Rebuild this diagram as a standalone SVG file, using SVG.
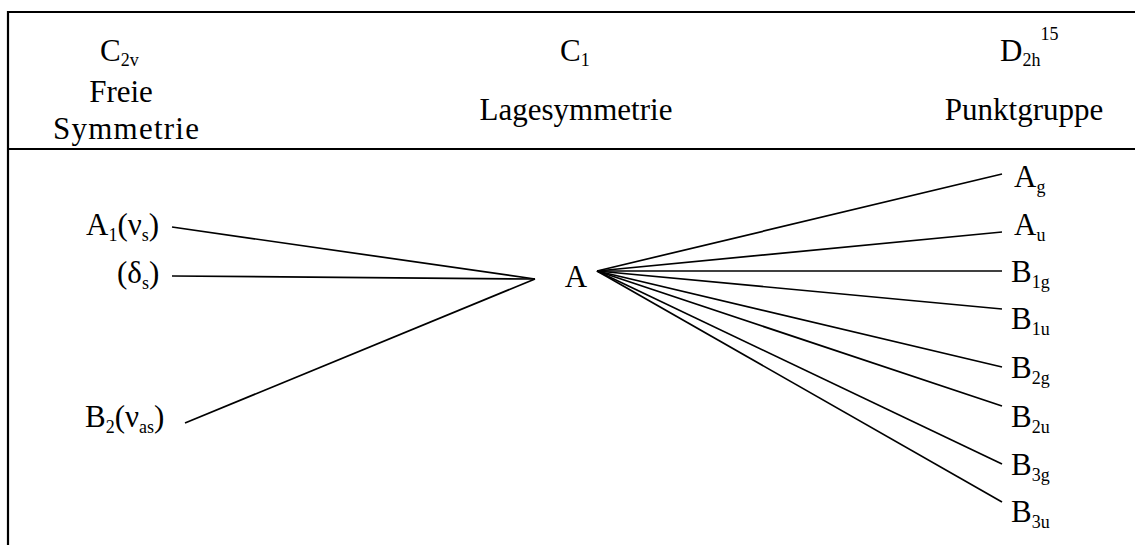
<svg xmlns="http://www.w3.org/2000/svg" width="1135" height="545" viewBox="0 0 1135 545">
<style>
text{font-family:"Liberation Serif","Times New Roman",serif;font-size:31px;fill:#000}
.s{font-size:18px}
.frame{stroke:#000;stroke-width:2.2;fill:none}
.c line{stroke:#000;stroke-width:1.7}
</style>
<rect width="1135" height="545" fill="#fff"/>
<g id="frame">
<path class="frame" d="M8,545 V12 H1135"/>
<line class="frame" x1="8" y1="149" x2="1135" y2="149"/>
</g>
<g id="header-left">
<text x="100" y="61">C<tspan class="s" dy="5">2v</tspan></text>
<text x="121" y="102" text-anchor="middle">Freie</text>
<text x="53" y="139" textLength="146" lengthAdjust="spacing">Symmetrie</text>
</g>
<g id="header-mid">
<text x="560" y="61">C<tspan class="s" dy="5">1</tspan></text>
<text x="576" y="120" text-anchor="middle">Lagesymmetrie</text>
</g>
<g id="header-right">
<text x="1000" y="61">D<tspan class="s" dy="5">2h</tspan><tspan class="s" dy="-26">15</tspan></text>
<text x="1024" y="120" text-anchor="middle">Punktgruppe</text>
</g>
<g class="c" id="connectors">
<line x1="172" y1="227" x2="535" y2="279"/>
<line x1="172" y1="276" x2="535" y2="279"/>
<line x1="185" y1="423" x2="535" y2="279"/>
<line x1="597" y1="271" x2="1002" y2="174"/>
<line x1="597" y1="271" x2="1002" y2="232"/>
<line x1="597" y1="271" x2="1002" y2="271"/>
<line x1="597" y1="271" x2="1002" y2="309"/>
<line x1="597" y1="271" x2="1002" y2="367"/>
<line x1="597" y1="271" x2="1002" y2="406"/>
<line x1="597" y1="271" x2="1002" y2="464"/>
<line x1="597" y1="271" x2="1002" y2="502"/>
</g>
<g id="n-A1"><text x="86" y="235">A<tspan class="s" dy="6">1</tspan><tspan dy="-6">(ν</tspan><tspan class="s" dy="6">s</tspan><tspan dy="-6">)</tspan></text></g>
<g id="n-ds"><text x="117" y="283">(δ<tspan class="s" dy="6">s</tspan><tspan dy="-6">)</tspan></text></g>
<g id="n-B2"><text x="85" y="427">B<tspan class="s" dy="6">2</tspan><tspan dy="-6">(ν</tspan><tspan class="s" dy="6">as</tspan><tspan dy="-6">)</tspan></text></g>
<g id="n-A"><text x="576" y="287" text-anchor="middle">A</text></g>
<g id="n-Ag"><text x="1014" y="187">A<tspan class="s" dy="6">g</tspan></text></g>
<g id="n-Au"><text x="1014" y="235">A<tspan class="s" dy="6">u</tspan></text></g>
<g id="n-B1g"><text x="1011" y="282">B<tspan class="s" dy="6">1g</tspan></text></g>
<g id="n-B1u"><text x="1011" y="329">B<tspan class="s" dy="6">1u</tspan></text></g>
<g id="n-B2g"><text x="1011" y="378">B<tspan class="s" dy="6">2g</tspan></text></g>
<g id="n-B2u"><text x="1011" y="427">B<tspan class="s" dy="6">2u</tspan></text></g>
<g id="n-B3g"><text x="1011" y="475">B<tspan class="s" dy="6">3g</tspan></text></g>
<g id="n-B3u"><text x="1011" y="522">B<tspan class="s" dy="6">3u</tspan></text></g>
</svg>
